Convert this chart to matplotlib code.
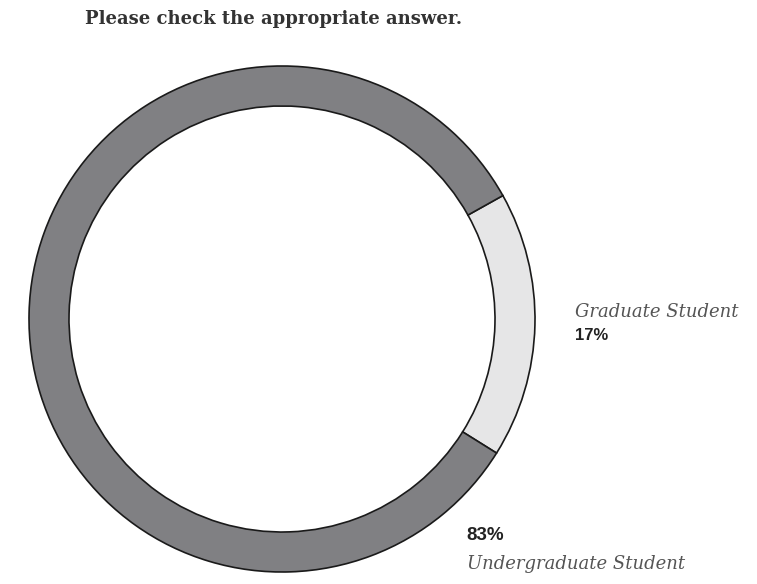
import matplotlib
matplotlib.use("Agg")
import matplotlib.pyplot as plt

# Data
categories = ["Graduate Student", "Undergraduate Student"]
shares = [17, 83]
colors = ["#e6e6e7", "#808083"]

title = "Please check the appropriate answer."

W, H = 757, 584
fig = plt.figure(figsize=(W / 100, H / 100), dpi=100)
ax = fig.add_axes([0, 0, 1, 1])

# donut, pixel coordinates (y measured from bottom)
cx, cy = 282, H - 319
ax.pie(shares, colors=colors, startangle=-32, counterclock=True,
       center=(cx, cy), radius=253, frame=True,
       wedgeprops=dict(width=40, edgecolor="#1a1a1a", linewidth=1.2))
ax.set_xlim(0, W)
ax.set_ylim(0, H)
ax.set_aspect("equal")
ax.axis("off")

serif = ["DejaVu Serif", "Liberation Serif"]
sans = ["Liberation Sans", "DejaVu Sans"]

ax.text(85, H - 19, title, fontsize=13, fontweight="bold", family=serif,
        color="#333333", ha="left", va="center")

ax.text(575, H - 312, categories[0], fontsize=13, style="italic", family=serif,
        color="#555555", ha="left", va="center")
ax.text(575, H - 336, f"{shares[0]}%", fontsize=12, fontweight="bold", family=sans,
        color="#222222", ha="left", va="center")

ax.text(466, H - 535, f"{shares[1]}%", fontsize=13.5, fontweight="bold", family=sans,
        color="#222222", ha="left", va="center")
ax.text(467, H - 564, categories[1], fontsize=13, style="italic", family=serif,
        color="#555555", ha="left", va="center")

fig.savefig("out.png", dpi=100)
